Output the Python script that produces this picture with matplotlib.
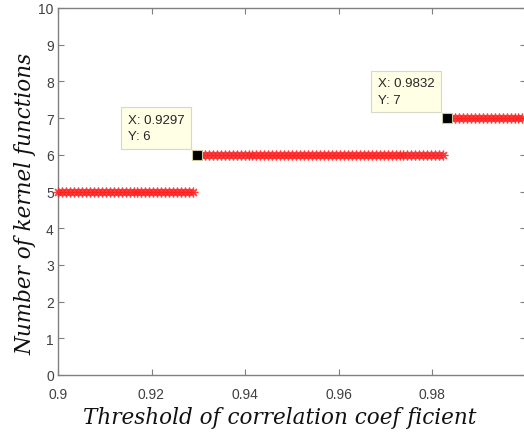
import numpy as np
import matplotlib
matplotlib.use("Agg")
import matplotlib.pyplot as plt

# Step function: number of kernel functions vs threshold
seg_starts = [0.9, 0.9297, 0.9832]
seg_ends = [0.9294, 0.9828, 1.0]
seg_values = [5, 6, 7]
sample_step = 0.00085
tip_x = [0.9297, 0.9832]
tip_y = [6, 7]
xticks = [0.9, 0.92, 0.94, 0.96, 0.98]
yticks = list(range(0, 11))

W, H = 524, 439
fig = plt.figure(figsize=(W / 100, H / 100), dpi=100)
ax = fig.add_axes([58 / W, 1 - 376 / H, (525.5 - 58) / W, (376 - 9) / H])

grey = "#808080"
txt = "#404040"

for s, e, v in zip(seg_starts, seg_ends, seg_values):
    xs = np.arange(s, e + 1e-9, sample_step)
    ax.plot(xs, np.full_like(xs, v), linestyle="none", marker=(8, 2, 0),
            markersize=7, color="#ff2020", markeredgewidth=0.9, alpha=0.85,
            clip_on=False, zorder=3)

ax.plot(tip_x, tip_y, linestyle="none", marker="s", markersize=7.5,
        color="black", markeredgecolor="#c8c8a0", markeredgewidth=0.8, zorder=5)

for x, y in zip(tip_x, tip_y):
    ax.annotate(f"X: {x:.4f}\nY: {y:g}", xy=(x, y), xytext=(-9, 9),
                textcoords="offset points", ha="right", va="bottom",
                multialignment="left",
                fontsize=9.5, family="Liberation Sans", color="#262626",
                linespacing=1.5,
                bbox=dict(boxstyle="square,pad=0.5", fc="#ffffe6",
                          ec="#d8d8c8", lw=0.8), zorder=6)

ax.set_xlim(0.9, 1.0)
ax.set_ylim(0, 10)
ax.set_xticks(xticks)
ax.set_xticklabels([f"{t:g}" for t in xticks])
ax.set_yticks(yticks)
for sp in ax.spines.values():
    sp.set_color(grey)
    sp.set_linewidth(1.0)
ax.tick_params(direction="in", length=4, width=0.8, color=grey,
               labelcolor=txt, labelsize=10, top=True, right=True, pad=3)
ax.tick_params(axis="x", pad=9)
for lab in ax.get_xticklabels() + ax.get_yticklabels():
    lab.set_family("Liberation Sans")

ax.set_xlabel("Threshold of correlation coef ficient", fontsize=15.5,
              family="DejaVu Serif", style="italic", color="#111111")
ax.xaxis.set_label_coords((280 - 58) / (525.5 - 58), -(407 - 376) / (376 - 9))
ax.set_ylabel("Number of kernel functions", fontsize=15.5,
              family="DejaVu Serif", style="italic", color="#111111")
ax.yaxis.set_label_coords(-(58 - 36) / (525.5 - 58), 0.47)

fig.savefig("out.png", dpi=100)
